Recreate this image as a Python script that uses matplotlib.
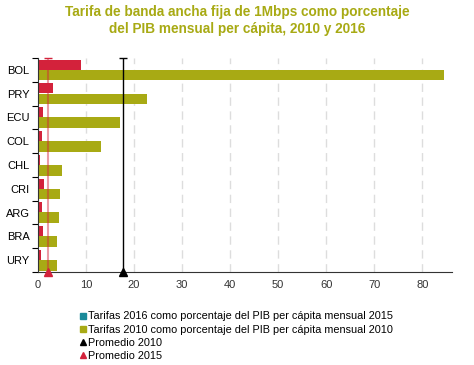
import matplotlib
matplotlib.use("Agg")
import matplotlib.pyplot as plt
from matplotlib.lines import Line2D
import numpy as np

plt.rcParams['font.family'] = ['Liberation Sans', 'DejaVu Sans']

countries = ["BOL", "PRY", "ECU", "COL", "CHL", "CRI", "ARG", "BRA", "URY"]
tarifas_2016 = [9.0, 3.2, 1.1, 0.8, 0.4, 1.3, 0.9, 1.1, 0.6]
tarifas_2010 = [84.6, 22.7, 17.1, 13.1, 5.0, 4.6, 4.4, 4.0, 4.0]
promedio_2010 = 17.7
promedio_2015 = 2.1

red = "#d3223b"
olive = "#a8aa14"
teal = "#1a8a9a"

fig = plt.figure(figsize=(4.74, 3.65), dpi=100)
ax = fig.add_axes([38 / 474, 1 - 272 / 365, (452 - 38) / 474, (272 - 58) / 365])

y = np.arange(len(countries))
ax.barh(y - 0.22, tarifas_2016, height=0.42, color=red, zorder=2)
ax.barh(y + 0.22, tarifas_2010, height=0.45, color=olive, zorder=2)

ax.set_ylim(len(countries) - 0.5, -0.5)
ax.set_xlim(0, 86.2)

# lineas de promedio
ax.axvline(promedio_2010, color="black", lw=1, zorder=3)
ax.axvline(promedio_2015, color=red, lw=1.5, alpha=0.45, zorder=3)
ax.plot([promedio_2010], [len(countries) - 0.5], marker="^", color="black",
        markersize=6, clip_on=False, zorder=4)
ax.plot([promedio_2015], [len(countries) - 0.5], marker="^", color=red,
        markersize=6, clip_on=False, zorder=4)
ax.plot([promedio_2010], [-0.5], marker="_", color="black",
        markersize=6, clip_on=False, zorder=4)
ax.plot([promedio_2015], [-0.5], marker="_", color=red,
        markersize=6, clip_on=False, zorder=4)

ax.set_xticks(np.arange(0, 90, 10))
ax.set_xticklabels([str(v) for v in range(0, 90, 10)], fontsize=8, color="#333333")
ax.tick_params(axis="x", length=0, pad=6)
ax.grid(axis="x", color="#dddddd", linestyle=(0, (6, 4)), lw=1, zorder=0)

ax.set_yticks(np.arange(-0.5, len(countries), 1))
ax.set_yticklabels([])
ax.set_yticks(y, minor=True)
ax.set_yticklabels(countries, minor=True, fontsize=8)
ax.tick_params(axis="y", which="major", length=4, direction="out")
ax.tick_params(axis="y", which="minor", length=0, pad=6)

for s in ["top", "right"]:
    ax.spines[s].set_visible(False)
ax.spines["bottom"].set_color("#333333")
ax.spines["left"].set_color("#333333")

fig.text(0.5, 0.985, "Tarifa de banda ancha fija de 1Mbps como porcentaje\ndel PIB mensual per cápita, 2010 y 2016",
         ha="center", va="top", fontsize=9.8, fontweight="bold", color=olive, linespacing=1.2)

handles = [
    Line2D([], [], marker="s", linestyle="none", color=teal, markersize=5),
    Line2D([], [], marker="s", linestyle="none", color=olive, markersize=5),
    Line2D([], [], marker="^", linestyle="none", color="black", markersize=5),
    Line2D([], [], marker="^", linestyle="none", color=red, markersize=5),
]
labels = [
    "Tarifas 2016 como porcentaje del PIB per cápita mensual 2015",
    "Tarifas 2010 como porcentaje del PIB per cápita mensual 2010",
    "Promedio 2010",
    "Promedio 2015",
]
fig.legend(handles, labels, loc="upper left", bbox_to_anchor=(72 / 474, 1 - 306 / 365),
           frameon=False, fontsize=7.8, handletextpad=0.0, handlelength=1.0,
           labelspacing=0.3, borderpad=0)

fig.savefig("out.png", dpi=100)
